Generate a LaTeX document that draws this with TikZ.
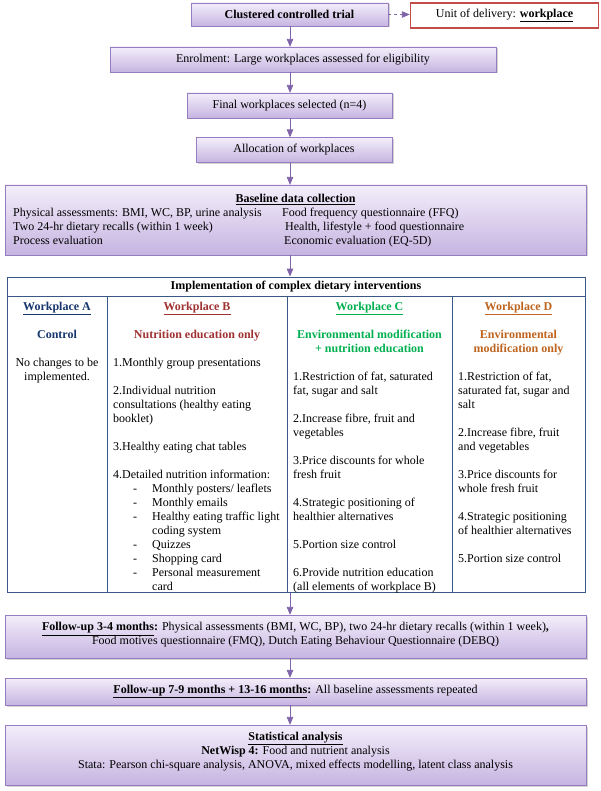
\documentclass[tikz,border=0pt]{standalone}
\usepackage{fontspec}
\setmainfont{Liberation Serif}
\usepackage{tikz}
\usetikzlibrary{shadows}
\usetikzlibrary{arrows,shapes}
\usetikzlibrary{calc}
\definecolor{boxtop}{RGB}{243,238,250}
\definecolor{boxbottom}{RGB}{198,180,225}
\definecolor{boxline}{RGB}{150,124,192}
\definecolor{arrowcol}{RGB}{128,100,170}
\definecolor{tabline}{RGB}{58,88,132}
\definecolor{unitred}{RGB}{195,75,72}
\definecolor{colA}{RGB}{23,54,110}
\definecolor{colB}{RGB}{160,50,50}
\definecolor{colC}{RGB}{0,176,80}
\definecolor{colD}{RGB}{190,100,30}
\newcommand{\normtext}{\fontsize{12}{14}\selectfont}
\newcommand{\listdash}{\makebox[39pt][l]{\hspace{20pt}-}}
\tikzstyle{flowbox}=[draw=boxline,top color=boxtop,bottom color=boxbottom,drop shadow={shadow xshift=1.5pt,shadow yshift=-1.5pt,opacity=0.35},inner sep=0pt,font=\normtext]
\tikzstyle{unitbox}=[draw=unitred,line width=1.5pt,fill=white,inner sep=0pt,font=\normtext]
\tikzstyle{edge} = [draw,thick,arrowcol,-triangle 45]
\tikzstyle{tabframe} = [draw=tabline,line width=1pt]
\tikzstyle{colhead} = [anchor=north,align=center,inner sep=0pt,font=\normtext\bfseries]
\tikzstyle{coltext} = [anchor=north west,align=left,inner sep=0pt,font=\normtext]
\tikzstyle{plaintext} = [inner sep=0pt,align=center,font=\normtext]

\begin{document}
\begin{tikzpicture}[x=1pt,y=-1pt]
    \useasboundingbox (0,0) rectangle (600,791);

    % top of the flow
    \node[flowbox,minimum width=197pt,minimum height=23pt] (trial) at (289.5,14.5) {\textbf{Clustered controlled trial}};
    \node[unitbox,minimum width=188pt,minimum height=25pt] (unit) at (504.5,15.5) {Unit of delivery: \underline{\textbf{workplace}}};
    \path[edge,dashed] (trial.east) -- (unit.west |- trial.east);

    \foreach \pos/\boxwd/\name/\txt in {{(303,59.5)/386pt/enrol/{Enrolment: Large workplaces assessed for eligibility}},
        {(289.5,105.5)/205pt/final/{Final workplaces selected (n=4)}},
        {(294,150)/196pt/alloc/{Allocation of workplaces}}}
        \node[flowbox,minimum width=\boxwd,minimum height=25pt] (\name) at \pos {\txt};

    % baseline box
    \node[flowbox,minimum width=581pt,minimum height=70pt] (base) at (295.5,220) {};
    \node[plaintext,anchor=north] (basehead) at (295.5,192.7) {\strut\underline{\textbf{Baseline data collection}}};
    \node[coltext] (baseleft) at (13,206.7) {\strut Physical assessments: BMI, WC, BP, urine analysis\\ Two 24-hr dietary recalls (within 1 week)\\ Process evaluation};
    \node[coltext] (baseright) at (282,206.7) {\strut Food frequency questionnaire (FFQ)\\ \hspace*{3pt}Health, lifestyle + food questionnaire\\ \hspace*{2pt}Economic evaluation (EQ-5D)};

    % table of the four workplaces
    \node[tabframe,fill=white,minimum width=578pt,minimum height=315pt,inner sep=0pt] (tab) at (296,434.5) {};
    \draw[tabframe] (7,296) -- (585,296);
    \foreach \x in {107,287,452}
        \draw[tabframe] (\x,296) -- (\x,592);
    \node[plaintext,font=\normtext\bfseries] (implhead) at (296,286.5) {Implementation of complex dietary interventions};

    \node[colhead] (headA) at (57,300) {\strut\textcolor{colA}{\underline{Workplace A}}\\[14pt] \textcolor{colA}{Control}\\[14pt] \mdseries No changes to be\\ \mdseries implemented.};
    \foreach \pos/\name/\col/\txt in {{(197,300)/headB/colB/{\underline{Workplace B}\\[14pt] Nutrition education only}},
        {(369.5,300)/headC/colC/{\underline{Workplace C}\\[14pt] Environmental modification\\ + nutrition education}},
        {(518.5,300)/headD/colD/{\underline{Workplace D}\\[14pt] Environmental\\ modification only}}}
        \node[colhead,text=\col] (\name) at \pos {\strut\txt};

    \node[coltext] (textB) at (113,356) {\strut 1.Monthly group presentations\\[14pt]
        2.Individual nutrition\\ consultations (healthy eating\\ booklet)\\[14pt]
        3.Healthy eating chat tables\\[14pt]
        4.Detailed nutrition information:\\
        \listdash Monthly posters/ leaflets\\
        \listdash Monthly emails\\
        \listdash Healthy eating traffic light\\
        \hspace*{39pt}coding system\\
        \listdash Quizzes\\
        \listdash Shopping card\\
        \listdash Personal measurement\\
        \hspace*{39pt}card};
    \node[coltext] (textC) at (293,370) {\strut 1.Restriction of fat, saturated\\ fat, sugar and salt\\[14pt]
        2.Increase fibre, fruit and\\ vegetables\\[14pt]
        3.Price discounts for whole\\ fresh fruit\\[14pt]
        4.Strategic positioning of\\ healthier alternatives\\[14pt]
        5.Portion size control\\[14pt]
        6.Provide nutrition education\\ (all elements of workplace B)};
    \node[coltext] (textD) at (458,370) {\strut 1.Restriction of fat,\\ saturated fat, sugar and\\ salt\\[14pt]
        2.Increase fibre, fruit\\ and vegetables\\[14pt]
        3.Price discounts for\\ whole fresh fruit\\[14pt]
        4.Strategic positioning\\ of healthier alternatives\\[14pt]
        5.Portion size control};

    % follow-up and analysis
    \node[flowbox,minimum width=581pt,minimum height=43pt] (fu1) at (295.5,636.5) {};
    \node[plaintext] (fu1text) at (295.5,635) {\underline{\textbf{Follow-up 3-4 months}}\textbf{:} Physical assessments (BMI, WC, BP), two 24-hr dietary recalls (within 1 week)\textbf{,}\\ Food motives questionnaire (FMQ), Dutch Eating Behaviour Questionnaire (DEBQ)};
    \node[flowbox,minimum width=581pt,minimum height=27pt] (fu2) at (295.5,691.5) {\underline{\textbf{Follow-up 7-9 months + 13-16 months}}\textbf{:} All baseline assessments repeated};
    \node[flowbox,minimum width=581pt,minimum height=60pt] (stats) at (295.5,755) {};
    \node[plaintext] (statstext) at (295.5,751.5) {\underline{\textbf{Statistical analysis}}\\ \textbf{NetWisp 4:} Food and nutrient analysis\\ Stata: Pearson chi-square analysis, ANOVA, mixed effects modelling, latent class analysis};

    % Connect the steps with arrows
    \coordinate (axis) at (290,0);
    \foreach \source/ \dest in {trial/enrol, enrol/final, final/alloc, alloc/base, base/tab, tab/fu1, fu1/fu2, fu2/stats}
        \path[edge] (\source.south -| axis) -- (\dest.north -| axis);

\end{tikzpicture}
\end{document}
